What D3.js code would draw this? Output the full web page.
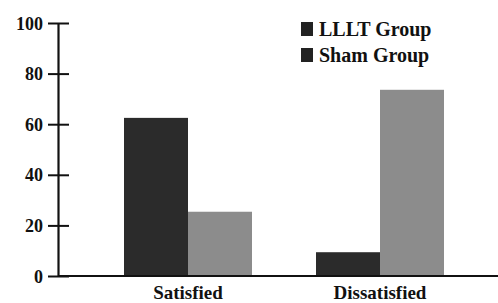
<!DOCTYPE html>
<html>
<head>
<meta charset="utf-8">
<script src="https://cdn.jsdelivr.net/npm/d3@7"></script>
<style>
  body { margin: 0; background: #fff; }
  text { font-family: "Liberation Serif", "Times New Roman", Times, "DejaVu Serif", serif; font-weight: bold; fill: #111; }
</style>
</head>
<body>
<div id="chart"></div>
<script>
// Chart data
var categories = ["Satisfied", "Dissatisfied"];
var seriesNames = ["LLLT Group", "Sham Group"];
var llltValues = [62.5, 9.4];
var shamValues = [25.4, 73.6];
var yTicks = [0, 20, 40, 60, 80, 100];

var colors = { "LLLT Group": "#2b2b2b", "Sham Group": "#8c8c8c" };
var serif = '"Liberation Serif", "Times New Roman", Times, "DejaVu Serif", serif';

var svgWidth = 498;
var svgHeight = 303;

var svg = d3.select("#chart")
  .append("svg")
  .attr("width", svgWidth)
  .attr("height", svgHeight);

// Scales
var yScale = d3.scaleLinear()
  .domain([0, 100])
  .range([276, 23]);

var xScale = d3.scaleBand()
  .domain(categories)
  .range([124, 444])
  .paddingInner(1 / 3)
  .paddingOuter(0);

var xSub = d3.scaleBand()
  .domain(seriesNames)
  .range([0, xScale.bandwidth()]);

// Build rows for the bars
var rows = [];
categories.forEach(function (c, i) {
  rows.push({ cat: c, series: "LLLT Group", value: llltValues[i] });
  rows.push({ cat: c, series: "Sham Group", value: shamValues[i] });
});

// Bars
svg.append("g")
  .selectAll("rect")
  .data(rows)
  .join("rect")
  .attr("x", d => xScale(d.cat) + xSub(d.series))
  .attr("y", d => yScale(d.value))
  .attr("width", xSub.bandwidth())
  .attr("height", d => yScale(0) - yScale(d.value))
  .attr("fill", d => colors[d.series]);

// Y axis with ticks crossing the line
var yAxis = d3.axisLeft(yScale)
  .tickValues(yTicks)
  .tickSizeInner(10)
  .tickSizeOuter(0)
  .tickPadding(5);

var yAxisG = svg.append("g")
  .attr("transform", "translate(58,0)")
  .call(yAxis)
  .attr("font-family", serif);

yAxisG.select(".domain").attr("stroke", "#111").attr("stroke-width", 2.2);
yAxisG.selectAll(".tick line")
  .attr("x2", -10)
  .attr("x1", 11)
  .attr("stroke", "#111")
  .attr("stroke-width", 2);
yAxisG.selectAll(".tick text")
  .attr("x", -15)
  .attr("dy", "0.34em")
  .style("font-size", "18px")
  .attr("fill", "#111");

// X axis line and labels
var xAxis = d3.axisBottom(xScale).tickSize(0).tickPadding(10);
var xAxisG = svg.append("g")
  .attr("transform", "translate(0,276)")
  .call(xAxis)
  .attr("font-family", serif);

xAxisG.select(".domain").remove();
xAxisG.append("line")
  .attr("x1", 58)
  .attr("x2", svgWidth)
  .attr("stroke", "#111")
  .attr("stroke-width", 2.2);
xAxisG.selectAll(".tick text")
  .style("font-size", "19px")
  .attr("fill", "#111");

// Legend
var legend = svg.append("g")
  .attr("transform", "translate(301,22)")
  .selectAll("g")
  .data(seriesNames)
  .join("g")
  .attr("transform", (d, i) => `translate(0, ${i * 26})`);

legend.append("rect")
  .attr("width", 12)
  .attr("height", 14)
  .attr("fill", "#222");

legend.append("text")
  .attr("x", 18)
  .attr("y", 14)
  .style("font-size", "20px")
  .text(d => d);
</script>
</body>
</html>
